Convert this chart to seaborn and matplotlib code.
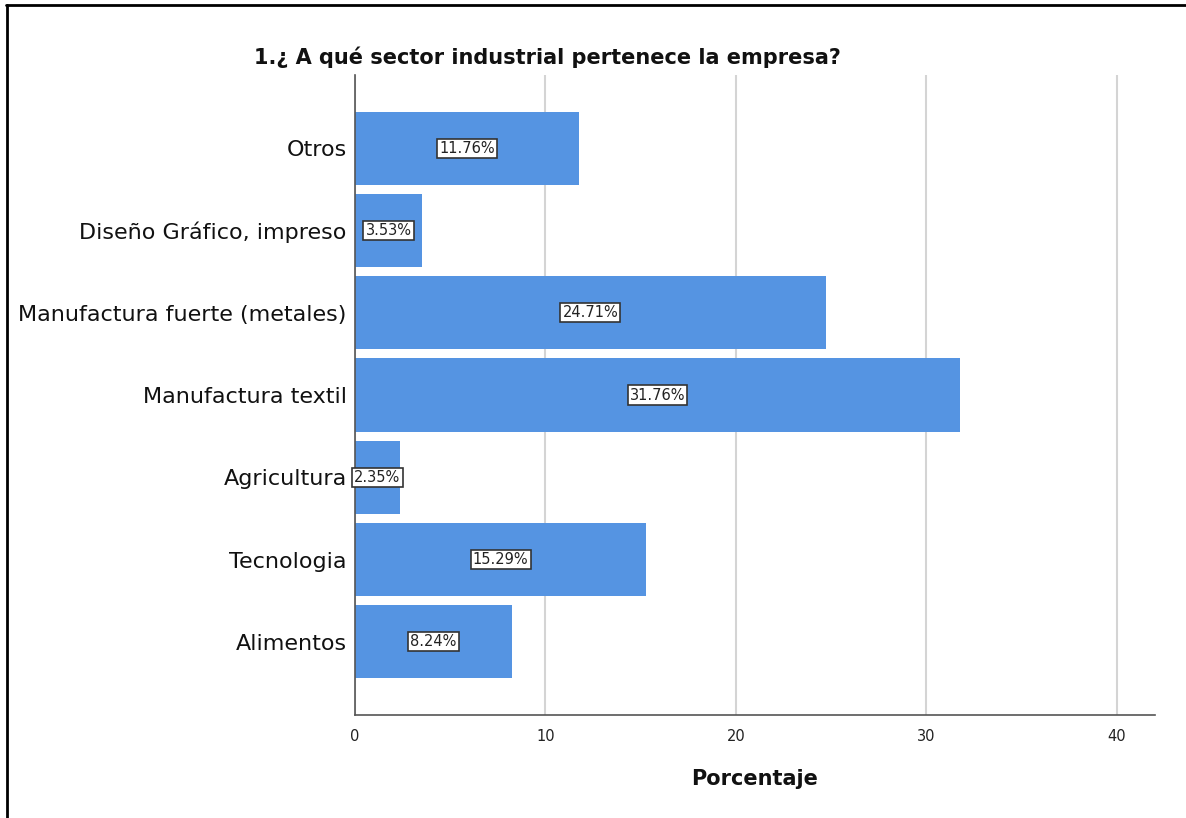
import matplotlib
matplotlib.use("Agg")
import matplotlib.pyplot as plt
import seaborn as sns
import pandas as pd
from matplotlib.lines import Line2D

categories = ["Otros", "Diseño Gráfico, impreso", "Manufactura fuerte (metales)",
              "Manufactura textil", "Agricultura", "Tecnologia", "Alimentos"]
values = [11.76, 3.53, 24.71, 31.76, 2.35, 15.29, 8.24]
x_ticks = [0, 10, 20, 30, 40]
title = "1.¿ A qué sector industrial pertenece la empresa?"
x_label = "Porcentaje"

sns.set_theme(style="white")
plt.rcParams['font.family'] = ['DejaVu Sans']

df = pd.DataFrame({"cat": categories, "val": values})

fig = plt.figure(figsize=(11.86, 8.18), dpi=100)
ax = fig.add_axes([355/1186, 1-715/818, 800/1186, 640/818])

sns.barplot(data=df, x="val", y="cat", orient="h", color="#5594E2",
            saturation=1, width=0.89, ax=ax, zorder=2, linewidth=0)

ax.set_xlim(0, 42)
ax.set_ylim(6.89, -0.89)
ax.set_xticks(x_ticks)
ax.set_xticklabels([str(t) for t in x_ticks], fontsize=10.5, color="#222222")
ax.tick_params(axis="x", length=0, pad=10)
ax.tick_params(axis="y", length=0, pad=6, labelsize=16, labelcolor="#111111")
ax.xaxis.grid(True, color="#d4d4d4", lw=1.5, zorder=0)
ax.set_axisbelow(True)
for s in ["top", "right"]:
    ax.spines[s].set_visible(False)
for s in ["left", "bottom"]:
    ax.spines[s].set_color("#555555")
    ax.spines[s].set_linewidth(1.2)
ax.set_ylabel("")
ax.set_xlabel(x_label, fontsize=15, fontweight="bold", labelpad=18, color="#111111")

for i, v in enumerate(values):
    ax.text(v / 2, i, f"{v:.2f}%", ha="center", va="center", fontsize=10.5,
            color="#222222", zorder=5,
            bbox=dict(boxstyle="square,pad=0.15", fc="white", ec="#333333", lw=1.2))

fig.text(547/1186, 1-57/818, title, ha="center", va="center",
         fontsize=15, fontweight="bold", color="#111111")

# frame on top and left
fig.add_artist(Line2D([6/1186, 1], [1-5/818, 1-5/818], color="black", lw=2, transform=fig.transFigure))
fig.add_artist(Line2D([7/1186, 7/1186], [0, 1-5/818], color="black", lw=2, transform=fig.transFigure))

fig.savefig("out.png", dpi=100)
